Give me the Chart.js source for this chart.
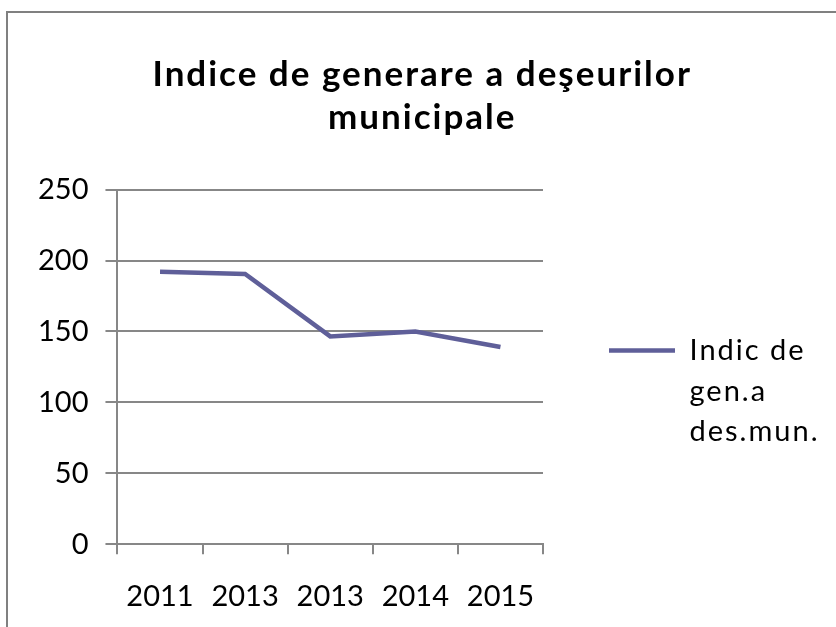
<!DOCTYPE html>
<html>
<head>
<meta charset="utf-8">
<script src="https://cdn.jsdelivr.net/npm/chart.js@4.4.1/dist/chart.umd.min.js"></script>
<style>
  html, body { margin: 0; padding: 0; background: #fff; }
  #wrap { width: 836px; height: 627px; }
</style>
</head>
<body>
<div id="wrap"><canvas id="myChart" width="836" height="627"></canvas></div>
<script>
// values
const years = ["2011", "2013", "2013", "2014", "2015"];
const indexValues = [192, 190.5, 146.5, 150, 139];
const titleLines = ["Indice de generare a deşeurilor", "municipale"];
const legendLines = ["Indic de", "gen.a", "des.mun."];
const yMax = 250;
const yStep = 50;

const lineColor = "#5f5f99";
const gridColor = "#878787";

// grey frame of the chart object (right and bottom sides run off the picture),
// plus the wider letter spacing of the title and legend text
const frame = {
    id: "frame",
    beforeLayout(chart) {
        // measure legend text with the same spacing it is drawn with
        chart.ctx.letterSpacing = "2px";
    },
    beforeDraw(chart) {
        const ctx = chart.ctx;
        ctx.save();
        ctx.fillStyle = "#fff";
        ctx.fillRect(0, 0, chart.width, chart.height);
        ctx.strokeStyle = "#808080";
        ctx.lineWidth = 2;
        ctx.strokeRect(7, 12, 1000, 1000);
        ctx.restore();
        ctx.letterSpacing = "2px";
    },
    afterDatasetsDraw(chart) {
        // tick labels are drawn after the datasets (z: 1), without spacing
        chart.ctx.letterSpacing = "0px";
    }
};

new Chart("myChart", {
    type: "line",
    data: {
        labels: years,
        datasets: [{
            label: legendLines.join(" "),
            data: indexValues,
            borderColor: lineColor,
            backgroundColor: lineColor,
            borderWidth: 4.5,
            pointRadius: 0,
            tension: 0,
            fill: false
        }]
    },
    options: {
        responsive: false,
        animation: false,
        layout: { padding: { left: 15, right: 6.5, top: 0, bottom: -12 } },
        plugins: {
            title: {
                display: true,
                text: titleLines,
                color: "#000",
                font: { family: "Lato", size: 35, weight: "bold", lineHeight: 1.23 },
                padding: { top: 53.5, bottom: 50 }
            },
            legend: {
                position: "right",
                maxWidth: 320,
                title: { display: true, text: "", font: { size: 10, lineHeight: 1 }, padding: { top: 145, bottom: 0 } },
                labels: {
                    color: "#000",
                    font: { family: "Lato", size: 29, lineHeight: 1.4 },
                    boxWidth: 66,
                    boxHeight: 4.5,
                    padding: 66,
                    generateLabels: () => [{
                        text: legendLines,
                        fillStyle: lineColor,
                        strokeStyle: lineColor,
                        fontColor: "#000",
                        lineWidth: 0,
                        hidden: false,
                        datasetIndex: 0
                    }]
                }
            },
            tooltip: { enabled: false }
        },
        scales: {
            x: {
                offset: true,
                grid: { offset: true, drawOnChartArea: false, drawTicks: true, tickLength: 10, color: gridColor, lineWidth: 2 },
                border: { display: true, color: gridColor, width: 2 },
                ticks: { z: 1, color: "#000", font: { family: "Lato", size: 29 }, padding: 25, maxRotation: 0, autoSkip: false }
            },
            y: {
                min: 0,
                max: yMax,
                grid: { color: gridColor, lineWidth: 2, tickLength: 12 },
                border: { display: true, color: gridColor, width: 2 },
                ticks: { z: 1, color: "#000", font: { family: "Lato", size: 29 }, stepSize: yStep, padding: 17 }
            }
        }
    },
    plugins: [frame]
});
</script>
</body>
</html>
